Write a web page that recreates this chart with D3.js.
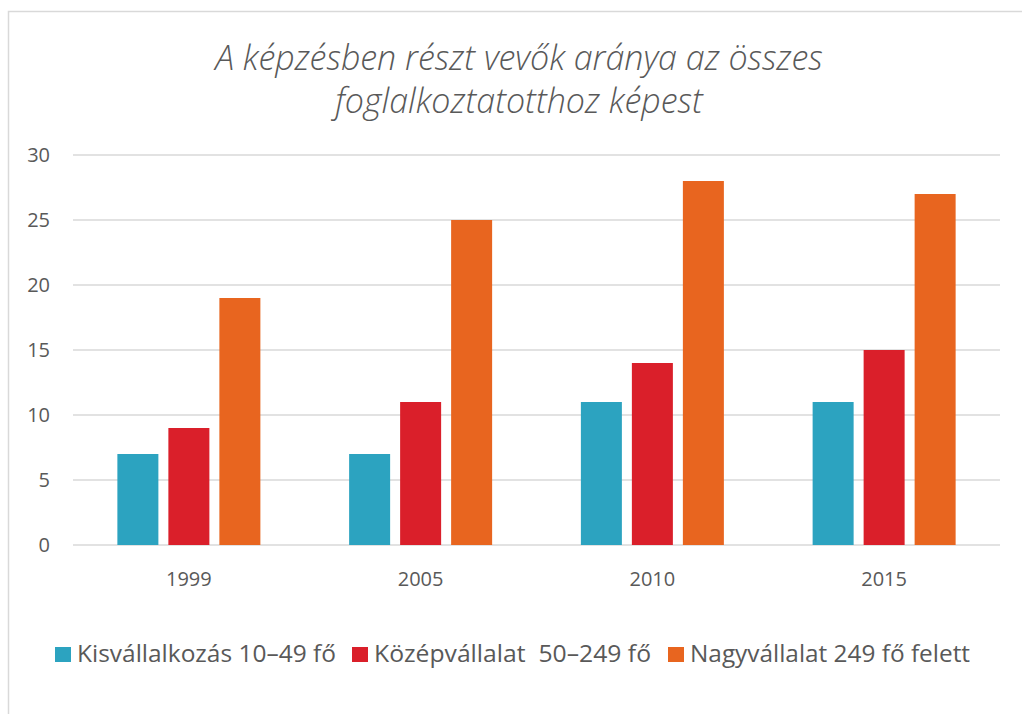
<!DOCTYPE html>
<html>
<head>
<meta charset="utf-8">
<script src="https://cdn.jsdelivr.net/npm/d3@7"></script>
<style>
  body { margin: 0; background: #fff; }
  text { font-family: "Open Sans", "Noto Sans", sans-serif; fill: #595959; }
</style>
</head>
<body>
<div id="wrapper"></div>
<script>
// Adatok
const years = ["1999", "2005", "2010", "2015"]
const seriesNames = ["Kisvállalkozás 10–49 fő", "Középvállalat  50–249 fő", "Nagyvállalat 249 fő felett"]
const kis = [7, 7, 11, 11]
const kozep = [9, 11, 14, 15]
const nagy = [19, 25, 28, 27]
const yTicks = [0, 5, 10, 15, 20, 25, 30]
const colors = ["#2ca3c0", "#da1f2a", "#e8651f"]

const seriesValues = [kis, kozep, nagy]
const dataset = years.map((y, i) => ({
  year: y,
  values: seriesValues.map((s, j) => ({ key: j, value: s[i] }))
}))

const dimensions = {
  width: 1022,
  height: 714,
  margin: { top: 155, right: 22, bottom: 169, left: 73 }
}
dimensions.boundedWidth = dimensions.width - dimensions.margin.left - dimensions.margin.right
dimensions.boundedHeight = dimensions.height - dimensions.margin.top - dimensions.margin.bottom

const wrapper = d3.select("#wrapper")
  .append("svg")
  .attr("width", dimensions.width)
  .attr("height", dimensions.height)

// Keret
wrapper.append("rect")
  .attr("x", 8.5)
  .attr("y", 11.5)
  .attr("width", 1030)
  .attr("height", 720)
  .attr("fill", "none")
  .attr("stroke", "#d9d9d9")
  .attr("stroke-width", 1.5)

// Cím
const title = wrapper.append("text")
  .attr("text-anchor", "middle")
  .style("font-style", "italic")
  .style("font-weight", 300)
  .attr("font-size", "34px")
title.append("tspan").attr("x", 519).attr("y", 70).text("A képzésben részt vevők aránya az összes")
title.append("tspan").attr("x", 519).attr("y", 113).text("foglalkoztatotthoz képest")

const bounds = wrapper.append("g")
  .attr("transform", `translate(${dimensions.margin.left},${dimensions.margin.top})`)

// Skaalat
const xScale = d3.scaleBand()
  .domain(years)
  .range([0, dimensions.boundedWidth])

const yScale = d3.scaleLinear()
  .domain([0, 30])
  .range([dimensions.boundedHeight, 0])

const step = 51
const xInner = d3.scaleBand()
  .domain([0, 1, 2])
  .range([-step * 1.5, step * 1.5])
  .paddingInner(10 / 51)
  .paddingOuter(5 / 51)

// Rácsvonalak
bounds.append("g")
  .selectAll("line")
  .data(yTicks)
  .join("line")
  .attr("x1", 0)
  .attr("x2", dimensions.boundedWidth)
  .attr("y1", d => yScale(d))
  .attr("y2", d => yScale(d))
  .attr("stroke", "#d9d9d9")
  .attr("stroke-width", 1.5)

// Tengelyek
const yAxis = bounds.append("g")
  .call(d3.axisLeft(yScale).tickValues(yTicks).tickSize(0).tickPadding(23))
yAxis.select(".domain").remove()
yAxis.selectAll("text").attr("font-size", "20px").attr("fill", "#595959").style("font-family", "'Open Sans', sans-serif")

const xAxis = bounds.append("g")
  .attr("transform", `translate(0,${dimensions.boundedHeight})`)
  .call(d3.axisBottom(xScale).tickSize(0).tickPadding(27))
xAxis.select(".domain").remove()
xAxis.selectAll("text").attr("font-size", "20px").attr("fill", "#595959").style("font-family", "'Open Sans', sans-serif")

// Oszlopok
const groups = bounds.selectAll(".grp")
  .data(dataset)
  .join("g")
  .attr("class", "grp")
  .attr("transform", d => `translate(${xScale(d.year) + xScale.bandwidth() / 2},0)`)

groups.selectAll("rect")
  .data(d => d.values)
  .join("rect")
  .attr("x", d => xInner(d.key))
  .attr("width", xInner.bandwidth())
  .attr("y", d => yScale(d.value))
  .attr("height", d => yScale(0) - yScale(d.value))
  .attr("fill", d => colors[d.key])

// Jelmagyarázat
const legendX = [55, 352, 668]
const legendW = [259, 277, 280]
const legend = wrapper.append("g")
  .selectAll("g")
  .data(seriesNames)
  .join("g")
  .attr("transform", (d, i) => `translate(${legendX[i]},662)`)

legend.append("rect")
  .attr("x", 0)
  .attr("y", -15)
  .attr("width", 16)
  .attr("height", 15)
  .attr("fill", (d, i) => colors[i])

legend.append("text")
  .attr("x", 22)
  .attr("y", 0)
  .attr("font-size", "24px")
  .attr("textLength", (d, i) => legendW[i])
  .attr("lengthAdjust", "spacingAndGlyphs")
  .style("white-space", "pre")
  .text(d => d)
</script>
</body>
</html>
